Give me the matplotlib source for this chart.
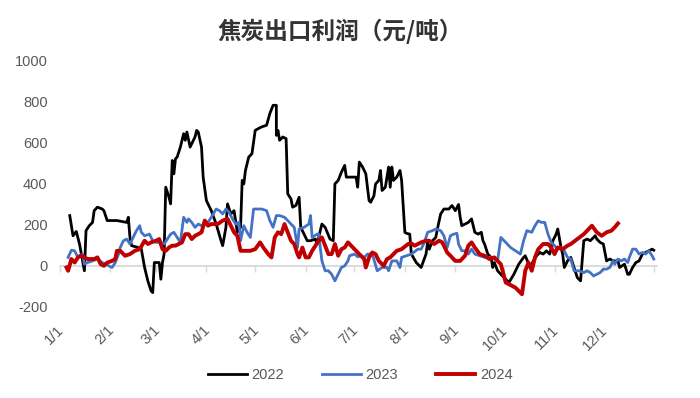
import matplotlib
matplotlib.use("Agg")
import matplotlib.pyplot as plt
import matplotlib.transforms as mtransforms

plt.rcParams['font.family'] = ['Liberation Sans', 'Noto Sans CJK SC', 'DejaVu Sans']

title = "焦炭出口利润（元/吨）"
series_names = ["2022", "2023", "2024"]
month_labels = ["1/1", "2/1", "3/1", "4/1", "5/1", "6/1", "7/1", "8/1", "9/1", "10/1", "11/1", "12/1"]
month_start_days = [0, 31, 59, 90, 120, 151, 181, 212, 243, 273, 304, 334, 365]
y_ticks = [-200, 0, 200, 400, 600, 800, 1000]

# day of year, value (yuan/ton)
days_2022 = [6, 8, 10, 12, 15, 16, 18, 20, 21, 23, 26, 27, 29, 35, 41, 42, 43, 44, 48, 50,
             52, 54, 56, 57, 58, 61, 62, 63, 64, 65, 67, 68, 69, 70, 71, 72, 74, 76, 77, 78,
             80, 81, 83, 84, 85, 87, 88, 90, 93, 96, 99, 100, 102, 103, 105, 107, 109, 111, 112, 113,
             114, 116, 118, 120, 122, 124, 127, 129, 131, 133, 133, 134, 135, 137, 139, 140, 142, 143, 145, 147,
             148, 150, 152, 154, 157, 158, 161, 163, 166, 168, 169, 171, 173, 175, 176, 179, 182, 183, 184, 186,
             188, 190, 191, 193, 194, 196, 197, 198, 200, 202, 203, 204, 205, 207, 209, 210, 212, 213, 215, 216,
             219, 222, 225, 226, 227, 229, 231, 232, 234, 236, 239, 241, 243, 245, 246, 247, 249, 251, 253, 255,
             257, 259, 260, 261, 263, 265, 266, 267, 269, 271, 276, 279, 282, 285, 286, 289, 291, 293, 295, 297,
             299, 301, 303, 305, 306, 308, 309, 310, 312, 314, 316, 318, 320, 322, 324, 326, 328, 329, 330, 332,
             334, 336, 338, 340, 343, 344, 347, 349, 350, 352, 354, 356, 358, 360, 362, 364, 365]
vals_2022 = [244, 146, 167, 106, -24, 171, 195, 211, 268, 285, 276, 268, 220, 220, 211, 236, 138, 98, 89, 81,
             -8, -73, -122, -130, 16, 16, -65, 16, 57, 382, 333, 301, 512, 447, 520, 528, 577, 642, 610, 650,
             577, 593, 626, 658, 650, 577, 431, 317, 268, 203, 122, 98, 187, 301, 252, 268, 163, 187, 415, 398,
             463, 528, 545, 658, 667, 675, 683, 740, 780, 780, 634, 658, 610, 626, 618, 350, 325, 285, 293, 333,
             187, 154, 122, 122, 130, 106, 203, 187, 130, 122, 398, 415, 455, 488, 431, 431, 431, 382, 504, 480,
             447, 317, 309, 341, 398, 415, 463, 366, 382, 480, 382, 480, 415, 431, 463, 415, 163, 158, 154, 57,
             16, -8, 57, 114, 81, 122, 138, 179, 252, 276, 276, 293, 268, 298, 236, 195, 203, 211, 228, 163,
             154, 163, 122, 106, 57, 41, -8, 16, -24, -41, -81, -41, 8, 41, 49, -8, 24, 49, 65, 57,
             73, 57, 122, 154, 179, 89, 57, -8, 24, 41, -8, -57, -73, 122, 130, 122, 138, 146, 130, 114,
             106, 24, 33, 24, 24, -8, 8, -41, -41, -8, 16, 24, 57, 65, 73, 81, 76]

days_2023 = [5, 7, 9, 11, 12, 14, 15, 17, 20, 23, 26, 28, 32, 34, 36, 37, 39, 41, 43, 45,
             47, 49, 50, 52, 55, 57, 59, 62, 64, 66, 68, 70, 72, 74, 76, 78, 79, 81, 83, 85,
             87, 89, 91, 93, 96, 98, 100, 102, 104, 106, 108, 110, 111, 113, 115, 117, 119, 121, 124, 127,
             129, 131, 133, 135, 138, 140, 142, 144, 146, 147, 150, 153, 154, 155, 158, 159, 161, 163, 165, 167,
             169, 171, 173, 175, 177, 178, 181, 183, 185, 187, 189, 192, 195, 198, 201, 202, 204, 207, 209, 210,
             213, 216, 220, 222, 224, 226, 229, 231, 234, 236, 238, 240, 242, 244, 245, 247, 249, 251, 253, 255,
             258, 261, 264, 267, 269, 271, 273, 277, 280, 283, 285, 287, 290, 292, 294, 296, 298, 300, 302, 304,
             306, 308, 310, 312, 314, 316, 319, 322, 324, 326, 328, 330, 332, 334, 336, 338, 340, 341, 343, 345,
             347, 349, 350, 352, 354, 356, 358, 360, 362, 364, 365]
vals_2023 = [41, 76, 73, 41, 49, 57, 8, 16, 24, 33, 16, 8, -8, 16, 57, 89, 122, 130, 106, 138,
             171, 195, 163, 146, 154, 122, 114, 114, 106, 130, 154, 163, 138, 114, 236, 211, 228, 211, 187, 203,
             195, 203, 211, 236, 276, 268, 252, 276, 260, 228, 203, 211, 122, 195, 163, 138, 276, 276, 276, 268,
             220, 187, 244, 244, 236, 220, 203, 187, 89, 179, 187, 203, 244, 138, 154, 154, 24, -24, -24, -41,
             -73, -41, -8, 0, 24, 49, 57, 44, 49, 41, 57, 57, -24, -8, -8, -24, 24, 24, -8, 41,
             49, 57, 81, 81, 114, 163, 171, 179, 171, 146, 89, 146, 154, 158, 106, 73, 73, 57, 81, 57,
             49, 41, 41, 33, 24, 138, 122, 89, 73, 57, 122, 171, 163, 195, 219, 211, 211, 154, 114, 98,
             81, 89, 73, 41, 33, -24, -24, -33, -24, -33, -49, -41, -33, -16, -16, -8, 24, 8, 33, 24,
             33, 16, 41, 81, 81, 57, 65, 57, 73, 49, 33]

days_2024 = [4, 5, 7, 9, 11, 13, 15, 17, 19, 21, 23, 25, 27, 29, 32, 34, 35, 37, 40, 43,
             46, 49, 52, 54, 56, 59, 61, 63, 65, 67, 69, 71, 73, 75, 77, 79, 81, 83, 85, 87,
             89, 91, 93, 97, 100, 103, 105, 107, 109, 111, 114, 117, 120, 123, 125, 128, 130, 132, 134, 136,
             138, 140, 142, 144, 146, 147, 149, 151, 153, 155, 159, 161, 163, 165, 167, 169, 171, 173, 175, 177,
             181, 183, 185, 187, 188, 190, 192, 194, 196, 199, 201, 203, 205, 207, 210, 214, 216, 218, 222, 225,
             227, 230, 233, 235, 238, 240, 243, 246, 249, 251, 253, 255, 258, 261, 264, 267, 269, 271, 274, 280,
             284, 286, 288, 290, 292, 294, 297, 300, 302, 304, 306, 309, 312, 314, 318, 322, 325, 327, 330, 333,
             336, 339, 341, 343]
vals_2024 = [-8, -24, 33, 16, 41, 49, 41, 33, 33, 33, 41, 8, 0, 16, 24, 33, 73, 73, 49, 57,
             73, 81, 122, 106, 114, 122, 130, 81, 73, 89, 98, 98, 106, 114, 154, 154, 130, 146, 154, 163,
             220, 195, 203, 203, 220, 228, 195, 163, 146, 73, 73, 73, 81, 114, 89, 57, 41, 138, 163, 154,
             203, 163, 122, 106, 57, 41, 89, 41, 41, 73, 122, 138, 98, 57, 57, 106, 49, 81, 89, 114,
             81, 65, 49, 33, -8, 41, 65, 57, 24, 0, 33, 41, 57, 73, 81, 106, 109, 98, 114, 122,
             122, 106, 122, 114, 65, 49, 24, 24, 49, 98, 114, 89, 57, 49, 33, 41, 24, 8, -81, -106,
             -138, -24, 16, -24, 41, 81, 106, 106, 89, 57, 89, 81, 98, 106, 130, 154, 179, 195, 163, 146,
             163, 171, 187, 206]

colors = ["#000000", "#4472C4", "#C00000"]
widths = [2.0, 2.0, 2.8]

fig = plt.figure(figsize=(7.0, 3.98), dpi=100)
ax = fig.add_axes([60 / 700, 1 - 307 / 398, 597 / 700, 247 / 398])

data = [(days_2022, vals_2022), (days_2023, vals_2023), (days_2024, vals_2024)]
for (d, v), name, c, w in zip(data, series_names, colors, widths):
    ax.plot(d, v, color=c, linewidth=w, label=name, solid_joinstyle='round', zorder=3)

ax.set_xlim(3, 367)
ax.set_ylim(-200, 1000)

for s in ['top', 'right', 'left']:
    ax.spines[s].set_visible(False)
ax.spines['bottom'].set_position(('data', 0))
ax.spines['bottom'].set_color('#D9D9D9')
ax.spines['bottom'].set_linewidth(1.3)
ax.spines['bottom'].set_zorder(1)
ax.set_xticks(month_start_days)
ax.tick_params(axis='x', direction='out', length=4, width=1.0, color='#D9D9D9', labelbottom=False)

ax.set_yticks(y_ticks)
ax.set_yticklabels([str(t) for t in y_ticks])
ax.tick_params(axis='y', length=0, pad=9, labelsize=10.5, labelcolor='#595959')

trans = mtransforms.blended_transform_factory(ax.transData, ax.transAxes)
for day, lab in zip(month_start_days, month_labels):
    ax.text(day + 1, -0.085, lab, transform=trans, rotation=45, rotation_mode='anchor',
            ha='right', va='center', fontsize=10.5, color='#595959', clip_on=False)

fig.text(340 / 700, 1 - 31 / 398, title, ha='center', va='center', fontsize=17,
         fontweight='bold', color='#333333', family=['Noto Sans CJK SC', 'DejaVu Sans'])

leg = fig.legend(loc='center', bbox_to_anchor=(360 / 700, 1 - 375 / 398), ncol=3, frameon=False,
                 fontsize=10.5, handlelength=2.7, handletextpad=0.3, columnspacing=2.6)
for t in leg.get_texts():
    t.set_color('#595959')

fig.savefig("out.png", dpi=100)
